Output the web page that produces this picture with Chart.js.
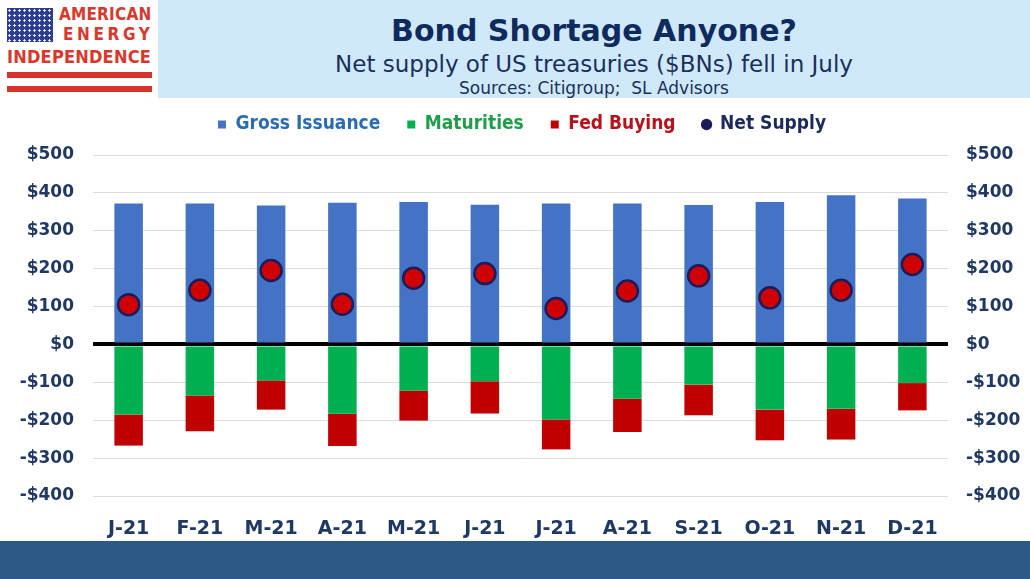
<!DOCTYPE html>
<html>
<head>
<meta charset="utf-8">
<script src="https://cdn.jsdelivr.net/npm/chart.js@4.4.1/dist/chart.umd.min.js"></script>
<style>
  body { margin: 0; width: 1030px; height: 579px; background: #fff; position: relative; overflow: hidden; font-family: "DejaVu Sans", sans-serif; }
  #header { position: absolute; left: 158px; top: 0; width: 872px; height: 98px; background: #cfe9fa; text-align: center; color: #0f2a5c; }
  #title { position: absolute; left: 0; right: 0; top: 13px; font: bold 30px "DejaVu Sans"; }
  #subtitle { position: absolute; left: 0; right: 0; top: 51px; font: 23px "DejaVu Sans"; color: #1b2f5c; }
  #sources { position: absolute; left: 0; right: 0; top: 78px; font: 17px "DejaVu Sans"; color: #1b2f5c; }
  #flag { position: absolute; left: 7px; top: 8px; width: 46px; height: 34px; background-color: #2c3e8f;
          background-image: radial-gradient(circle, #fff 0.9px, transparent 1.4px); background-size: 5px 5px; }
  .logo { position: absolute; color: #d8382c; font-family: "DejaVu Sans Condensed"; font-weight: bold; white-space: nowrap; }
  .stripe { position: absolute; left: 7px; width: 145px; height: 6px; background: #d8332b; }
  #band { position: absolute; left: 0; top: 541px; width: 1030px; height: 38px; background: #2c5886; }
  #wrap { position: absolute; left: 0; top: 86px; width: 1030px; height: 455px; }
</style>
</head>
<body>
<div id="flag"></div>
<div class="logo" style="left:59px; top:4px; font-size:17px; letter-spacing:0.2px;">AMERICAN</div>
<div class="logo" style="left:63px; top:24px; font-size:17px; letter-spacing:3.6px;">ENERGY</div>
<div class="logo" style="left:7px; top:46px; font-size:18px; letter-spacing:0.2px;">INDEPENDENCE</div>
<div class="stripe" style="top:72px;"></div>
<div class="stripe" style="top:86px;"></div>
<div id="header">
  <div id="title">Bond Shortage Anyone?</div>
  <div id="subtitle">Net supply of US treasuries ($BNs) fell in July</div>
  <div id="sources">Sources: Citigroup;&nbsp; SL Advisors</div>
</div>
<div id="band"></div>
<div id="wrap"><canvas id="chart"></canvas></div>
<script>
const months = ["J-21", "F-21", "M-21", "A-21", "M-21", "J-21", "J-21", "A-21", "S-21", "O-21", "N-21", "D-21"];
const grossIssuance = [372, 372, 367, 374, 376, 369, 372, 372, 368, 376, 394, 385];
const maturities = [-185, -135, -95, -183, -122, -97, -198, -143, -106, -172, -170, -102];
const fedBuying = [-82, -94, -77, -85, -79, -85, -79, -88, -81, -81, -81, -72];
const netSupply = [105, 143, 195, 106, 175, 187, 95, 141, 181, 123, 143, 211];
const legendColors = ["#2b6cb0", "#1f9e4a", "#b5121b", "#1b2a5a"];

const tickColor = "#1f3864";
const money = (v) => (v < 0 ? "-$" + Math.abs(v) : "$" + v);

// legend sits a bit higher above the plot and a bit right of centre
const legendGap = {
  id: "legendGap",
  beforeLayout(chart) {
    const lg = chart.legend;
    if (lg && !lg._gap) {
      const fit = lg.fit;
      lg.fit = function () {
        fit.call(this);
        this.height += 13;
      };
      lg._gap = true;
    }
  },
  afterLayout(chart) {
    const lg = chart.legend;
    if (lg) {
      lg.left += 7;
      lg.right += 7;
      lg.top += 2;
    }
  },
};

const ctx = document.getElementById("chart");

new Chart(ctx, {
  data: {
    labels: months,
    datasets: [
      {
        type: "bar",
        label: "Gross Issuance",
        data: grossIssuance,
        backgroundColor: "#4472c4",
        order: 1,
      },
      {
        type: "bar",
        label: "Maturities",
        data: maturities,
        backgroundColor: "#00b050",
        order: 1,
      },
      {
        type: "bar",
        label: "Fed Buying",
        data: fedBuying,
        backgroundColor: "#c00000",
        order: 1,
      },
      {
        type: "line",
        label: "Net Supply",
        data: netSupply,
        showLine: false,
        pointRadius: 10.5,
        pointHoverRadius: 10.5,
        pointBackgroundColor: "#d00000",
        pointBorderColor: "#1c1c5a",
        pointBorderWidth: 2.5,
        stack: "net",
        order: 0,
      },
    ],
  },
  options: {
    responsive: true,
    maintainAspectRatio: false,
    animation: false,
    layout: { padding: 0 },
    datasets: {
      bar: { barPercentage: 0.4, categoryPercentage: 1 },
    },
    plugins: {
      legend: {
        display: true,
        position: "top",
        labels: {
          usePointStyle: true,
          boxWidth: 8,
          boxHeight: 8,
          padding: 27,
          font: { family: "DejaVu Sans Condensed", size: 19, weight: "bold" },
          generateLabels(chart) {
            return chart.data.datasets.map((ds, i) => ({
              text: ds.label,
              fillStyle: ds.type === "line" ? "#1c1c5a" : ds.backgroundColor,
              strokeStyle: ds.type === "line" ? "#1c1c5a" : ds.backgroundColor,
              lineWidth: 0,
              pointStyle: ds.type === "line" ? "circle" : "rect",
              fontColor: legendColors[i],
              datasetIndex: i,
              hidden: false,
            }));
          },
        },
      },
      tooltip: { enabled: false },
    },
    scales: {
      x: {
        stacked: true,
        grid: { display: false },
        border: { display: false },
        ticks: {
          color: tickColor,
          padding: 14,
          font: { family: "DejaVu Sans", size: 19, weight: "bold" },
        },
        afterFit(scale) {
          scale.height = 45;
        },
      },
      y: {
        stacked: true,
        position: "left",
        min: -400,
        max: 500,
        border: { display: false },
        grid: {
          drawTicks: false,
          color: (c) => (c.tick.value === 0 ? "#000" : "#dcdcdc"),
          lineWidth: (c) => (c.tick.value === 0 ? 4 : 1),
        },
        ticks: {
          stepSize: 100,
          color: tickColor,
          padding: 19,
          font: { family: "DejaVu Sans", size: 17, weight: "bold" },
          callback: money,
        },
        afterFit(scale) {
          scale.width = 93;
        },
      },
      y2: {
        position: "right",
        min: -400,
        max: 500,
        border: { display: false },
        grid: { display: false, drawTicks: false },
        ticks: {
          stepSize: 100,
          color: tickColor,
          padding: 18,
          font: { family: "DejaVu Sans", size: 17, weight: "bold" },
          callback: money,
        },
        afterFit(scale) {
          scale.width = 82;
        },
      },
    },
  },
  plugins: [legendGap],
});
</script>
</body>
</html>
